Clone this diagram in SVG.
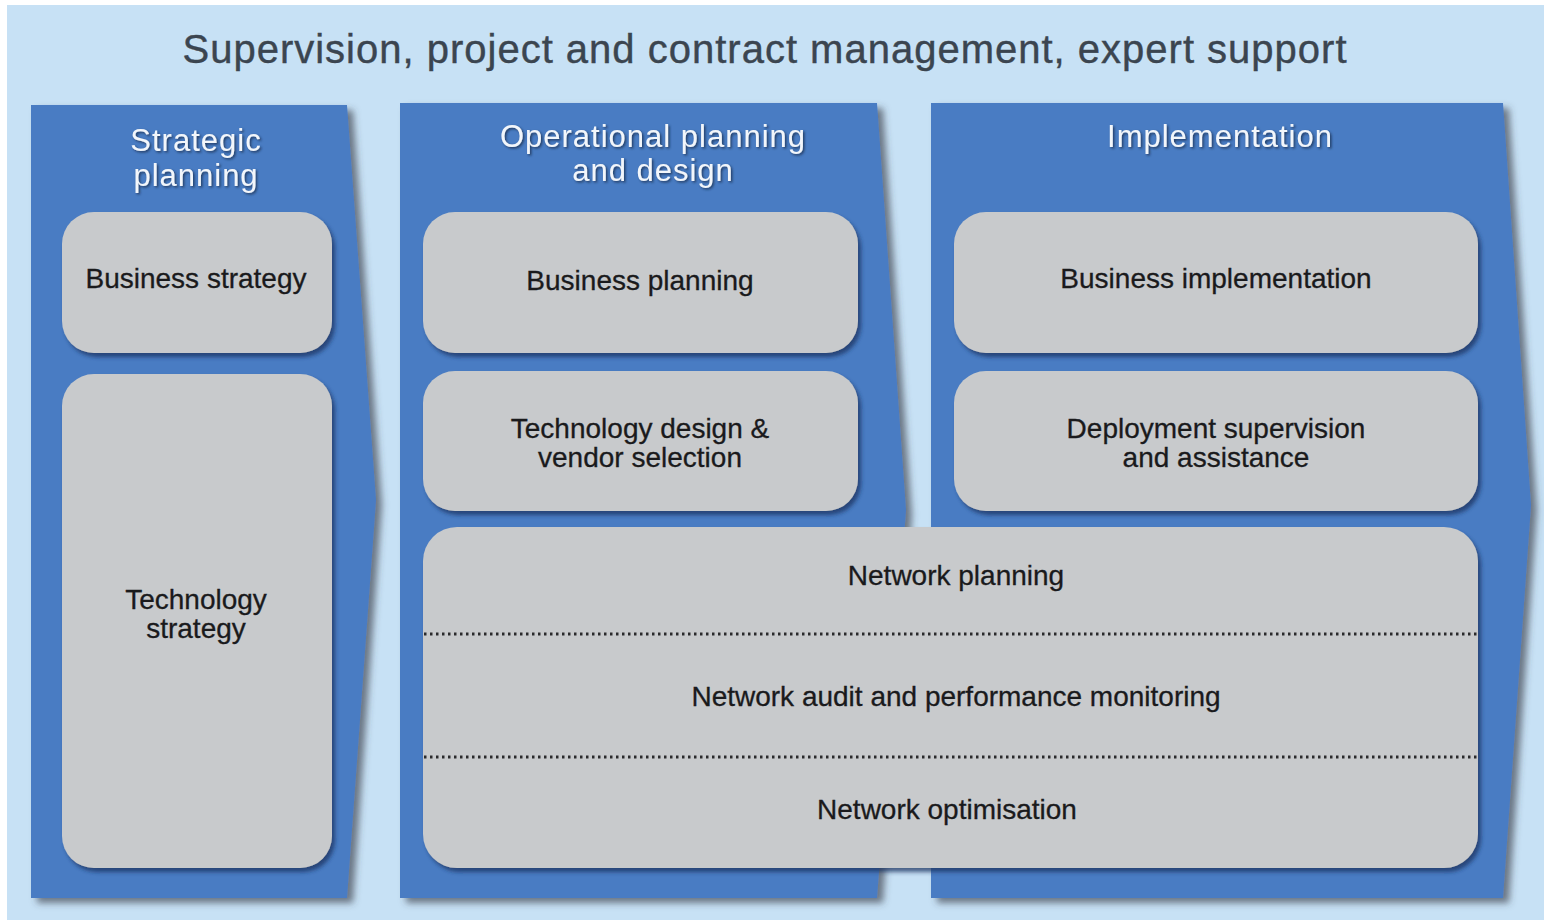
<svg xmlns="http://www.w3.org/2000/svg" width="1544" height="923" viewBox="0 0 1544 923">
<defs>
<filter id="pshadow" x="-10%" y="-10%" width="125%" height="125%">
<feDropShadow dx="6" dy="5" stdDeviation="3.5" flood-color="#3a3f48" flood-opacity="0.65"/>
</filter>
<filter id="bshadow" x="-10%" y="-10%" width="125%" height="125%">
<feDropShadow dx="3" dy="4" stdDeviation="2" flood-color="#1c3260" flood-opacity="0.75"/>
</filter>
<filter id="tshadow" x="-10%" y="-30%" width="125%" height="170%">
<feDropShadow dx="1.5" dy="1.5" stdDeviation="1" flood-color="#1a2a4a" flood-opacity="0.8"/>
</filter>
</defs>
<style>
.panel{fill:#4a7bc3;filter:url(#pshadow)}
.box{fill:#c8cacc;filter:url(#bshadow)}
.head{font-family:"Liberation Sans",Arial,sans-serif;font-size:31px;fill:#f2f6fb;text-anchor:middle;letter-spacing:1px;filter:url(#tshadow)}
.lbl{font-family:"Liberation Sans",Arial,sans-serif;font-size:28px;fill:#1a1a1c;text-anchor:middle;stroke:#1a1a1c;stroke-width:0.3}
.title{font-family:"Liberation Sans",Arial,sans-serif;font-size:40px;fill:#3b4550;text-anchor:middle;letter-spacing:1px;stroke:#3b4550;stroke-width:0.4}
.dots{stroke:#2a2a2c;stroke-width:3;stroke-dasharray:2.5 3.5;fill:none}
</style>
<rect x="0" y="0" width="1544" height="923" fill="#ffffff"/>
<rect x="7" y="5" width="1537" height="915" fill="#c7e1f5"/>
<text class="title" x="765" y="63">Supervision, project and contract management, expert support</text>

<g id="panel-strategic">
<path class="panel" d="M31,105 L347,105 L376,500 L347,898 L31,898 Z"/>
<text class="head" x="196" y="151">Strategic</text>
<text class="head" x="196" y="186">planning</text>
</g>
<g id="panel-operational">
<path class="panel" d="M400,103 L877,103 L906,510 L877,898 L400,898 Z"/>
<text class="head" x="653" y="147">Operational planning</text>
<text class="head" x="653" y="181">and design</text>
</g>
<g id="panel-implementation">
<path class="panel" d="M931,103 L1503,103 L1531,505 L1503,898 L931,898 Z"/>
<text class="head" x="1220" y="147">Implementation</text>
</g>

<g id="business-strategy">
<rect class="box" x="62" y="212" width="270" height="141" rx="32"/>
<text class="lbl" x="196" y="288">Business strategy</text>
</g>
<g id="technology-strategy">
<rect class="box" x="62" y="374" width="270" height="494" rx="32"/>
<text class="lbl" x="196" y="609">Technology</text>
<text class="lbl" x="196" y="638">strategy</text>
</g>
<g id="business-planning">
<rect class="box" x="423" y="212" width="435" height="141" rx="32"/>
<text class="lbl" x="640" y="290">Business planning</text>
</g>
<g id="technology-design">
<rect class="box" x="423" y="371" width="435" height="140" rx="32"/>
<text class="lbl" x="640" y="438">Technology design &amp;</text>
<text class="lbl" x="640" y="467">vendor selection</text>
</g>
<g id="business-implementation">
<rect class="box" x="954" y="212" width="524" height="141" rx="32"/>
<text class="lbl" x="1216" y="288">Business implementation</text>
</g>
<g id="deployment-supervision">
<rect class="box" x="954" y="371" width="524" height="140" rx="32"/>
<text class="lbl" x="1216" y="438">Deployment supervision</text>
<text class="lbl" x="1216" y="467">and assistance</text>
</g>
<g id="network">
<rect class="box" x="423" y="527" width="1055" height="341" rx="34"/>
<line class="dots" x1="424" y1="634" x2="1478" y2="634"/>
<line class="dots" x1="424" y1="757" x2="1478" y2="757"/>
<text class="lbl" x="956" y="585">Network planning</text>
<text class="lbl" x="956" y="706">Network audit and performance monitoring</text>
<text class="lbl" x="947" y="819">Network optimisation</text>
</g>
<g id="connectors"/>
</svg>
